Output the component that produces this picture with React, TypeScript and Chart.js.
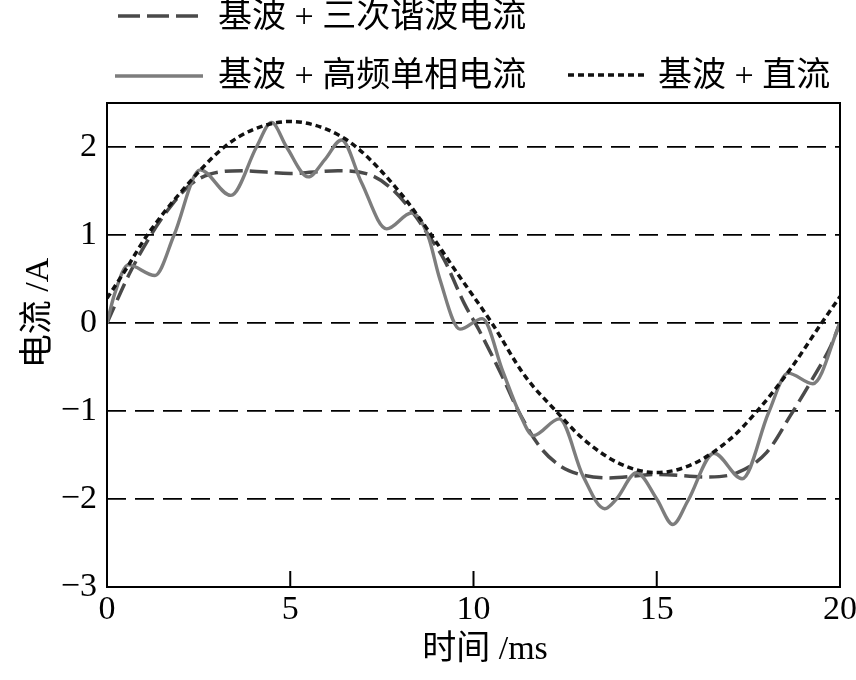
import { useEffect, useRef } from "react"
import { Chart, registerables } from "chart.js"

Chart.register(...registerables)

// 基波 + 高频单相电流 (solid grey)
const hfTime = [0, 0.2, 0.58, 1.31, 1.83, 2.54, 3.38, 4.08, 4.49, 4.9, 5.49, 5.95, 6.4, 6.94, 7.63, 8.31, 8.76, 9.08, 9.63, 10.24, 10.8, 11.26, 11.63, 12.34, 12.99, 13.58, 13.9, 14.45, 15.0, 15.44, 15.85, 16.56, 17.33, 18.05, 18.58, 19.26, 20]
const hfCurrent = [0, 0.32, 0.66, 0.54, 1.0, 1.74, 1.45, 2.0, 2.28, 2.0, 1.66, 1.86, 2.08, 1.6, 1.07, 1.25, 0.99, 0.5, -0.07, 0.05, -0.55, -1.03, -1.28, -1.09, -1.74, -2.11, -2.0, -1.7, -2.0, -2.29, -2.02, -1.48, -1.77, -1.02, -0.57, -0.69, 0]

// 基波 + 三次谐波电流 (long dashes)
const thirdTime = [0, 0.6, 1.2, 1.8, 2.3, 2.8, 3.7, 5, 6.3, 7.2, 7.7, 8.3, 8.8, 9.2, 9.75, 10.15, 10.8, 11.2, 11.8, 12.35, 12.9, 13.7, 15, 16.4, 17.2, 18.0, 18.65, 19.2, 19.75, 20]
const thirdCurrent = [0, 0.55, 1.0, 1.36, 1.58, 1.69, 1.73, 1.7, 1.73, 1.68, 1.55, 1.28, 0.98, 0.72, 0.22, -0.08, -0.62, -0.98, -1.4, -1.62, -1.72, -1.76, -1.72, -1.75, -1.7, -1.47, -1.05, -0.67, -0.26, 0]

// 基波 + 直流 (short dashes)
const dcTime = [0, 0.5, 1.1, 2, 3.2, 4, 5, 6, 6.8, 8, 8.85, 9.5, 10.5, 11.4, 12.25, 13, 14, 15, 16, 17, 17.7, 18.6, 19.5, 20]
const dcCurrent = [0.28, 0.6, 1.0, 1.48, 2.0, 2.2, 2.29, 2.2, 2.0, 1.48, 1.0, 0.6, 0, -0.6, -1.0, -1.32, -1.6, -1.7, -1.6, -1.32, -1.02, -0.55, 0, 0.3]

const xTicks = [0, 5, 10, 15, 20]
const yTicks = [-3, -2, -1, 0, 1, 2]

const serif = '"Liberation Serif", "Noto Sans CJK SC", serif'

const toPoints = (t: number[], v: number[]) => t.map((x, i) => ({ x, y: v[i] }))

// legend rows, frame, inner ticks and axis titles
const decorPlugin = {
  id: "decor",
  afterDraw(chart: Chart) {
    const { ctx, chartArea: a, scales } = chart
    ctx.save()
    ctx.strokeStyle = "#000"
    ctx.lineWidth = 2
    ctx.strokeRect(a.left, a.top, a.right - a.left, a.bottom - a.top)
    for (const v of xTicks.slice(1, -1)) {
      const x = scales.x.getPixelForValue(v)
      ctx.beginPath()
      ctx.moveTo(x, a.bottom)
      ctx.lineTo(x, a.bottom - 16)
      ctx.stroke()
    }

    ctx.fillStyle = "#000"
    ctx.font = `34px ${serif}`
    ctx.textAlign = "center"
    ctx.textBaseline = "middle"
    ctx.fillText("时间 /ms", 485, 650)
    ctx.save()
    ctx.translate(39, 313)
    ctx.rotate(-Math.PI / 2)
    ctx.fillText("电流 /A", 0, 0)
    ctx.restore()

    const rows = [
      { i: 0, x: 118, y: 16, len: 82, tx: 218, ty: 18 },
      { i: 1, x: 115, y: 76, len: 88, tx: 218, ty: 77 },
      { i: 2, x: 568, y: 75, len: 78, tx: 658, ty: 77 },
    ]
    ctx.textAlign = "left"
    for (const r of rows) {
      const ds: any = chart.data.datasets[r.i]
      ctx.strokeStyle = ds.borderColor
      ctx.lineWidth = ds.borderWidth
      ctx.setLineDash(ds.legendDash || [])
      ctx.beginPath()
      ctx.moveTo(r.x, r.y)
      ctx.lineTo(r.x + r.len, r.y)
      ctx.stroke()
      ctx.setLineDash([])
      ctx.fillText(ds.label, r.tx, r.ty)
    }
    ctx.restore()
  },
}

export default function App() {
  const chartRef = useRef<HTMLCanvasElement>(null)
  const chartInstance = useRef<Chart | null>(null)

  useEffect(() => {
    if (!chartRef.current) return
    if (chartInstance.current) chartInstance.current.destroy()
    const ctx = chartRef.current.getContext("2d")
    if (!ctx) return

    chartInstance.current = new Chart(ctx, {
      type: "line",
      data: {
        datasets: [
          {
            label: "基波 + 三次谐波电流",
            data: toPoints(thirdTime, thirdCurrent),
            borderColor: "#4a4a4a",
            borderWidth: 3.5,
            borderDash: [18, 7],
            legendDash: [22, 7],
            order: 2,
          } as any,
          {
            label: "基波 + 高频单相电流",
            data: toPoints(hfTime, hfCurrent),
            borderColor: "#7d7d7d",
            borderWidth: 3.4,
            order: 1,
          },
          {
            label: "基波 + 直流",
            data: toPoints(dcTime, dcCurrent),
            borderColor: "#111",
            borderWidth: 3.5,
            borderDash: [6, 4],
            legendDash: [6, 4],
            order: 0,
          } as any,
        ],
      },
      options: {
        animation: false,
        responsive: true,
        maintainAspectRatio: false,
        layout: { padding: { top: 103, right: 16, left: 0, bottom: 0 } },
        elements: {
          point: { radius: 0 },
          line: { cubicInterpolationMode: "monotone", fill: false },
        },
        plugins: {
          legend: { display: false },
          tooltip: { enabled: false },
        },
        scales: {
          x: {
            type: "linear",
            min: 0,
            max: 20,
            grid: { display: false },
            border: { display: false },
            ticks: {
              autoSkip: false,
              maxRotation: 0,
              padding: -5,
              color: "#000",
              font: { family: serif, size: 34 },
            },
            afterBuildTicks: (scale: any) => {
              scale.ticks = xTicks.map((value) => ({ value }))
            },
            afterFit: (scale: any) => {
              scale.height = 93
              scale.paddingLeft = 0
              scale.paddingRight = 0
            },
          },
          y: {
            min: -3,
            max: 2.5,
            grid: { color: "#000", lineWidth: 1.8, drawTicks: false },
            border: { display: false, dash: [19, 9] },
            ticks: {
              padding: 10,
              color: "#000",
              font: { family: serif, size: 34 },
              callback: (v: any) => (v < 0 ? "\u2212" + Math.abs(v) : String(v)),
            },
            afterBuildTicks: (scale: any) => {
              scale.ticks = yTicks.map((value) => ({ value }))
            },
            afterFit: (scale: any) => {
              scale.width = 107
              scale.paddingTop = 0
              scale.paddingBottom = 0
            },
          },
        },
      },
      plugins: [decorPlugin],
    })

    return () => {
      if (chartInstance.current) {
        chartInstance.current.destroy()
        chartInstance.current = null
      }
    }
  }, [])

  return (
    <div style={{ position: "absolute", left: 0, top: 0, width: 856, height: 680, background: "#fff" }}>
      <canvas ref={chartRef}></canvas>
    </div>
  )
}
